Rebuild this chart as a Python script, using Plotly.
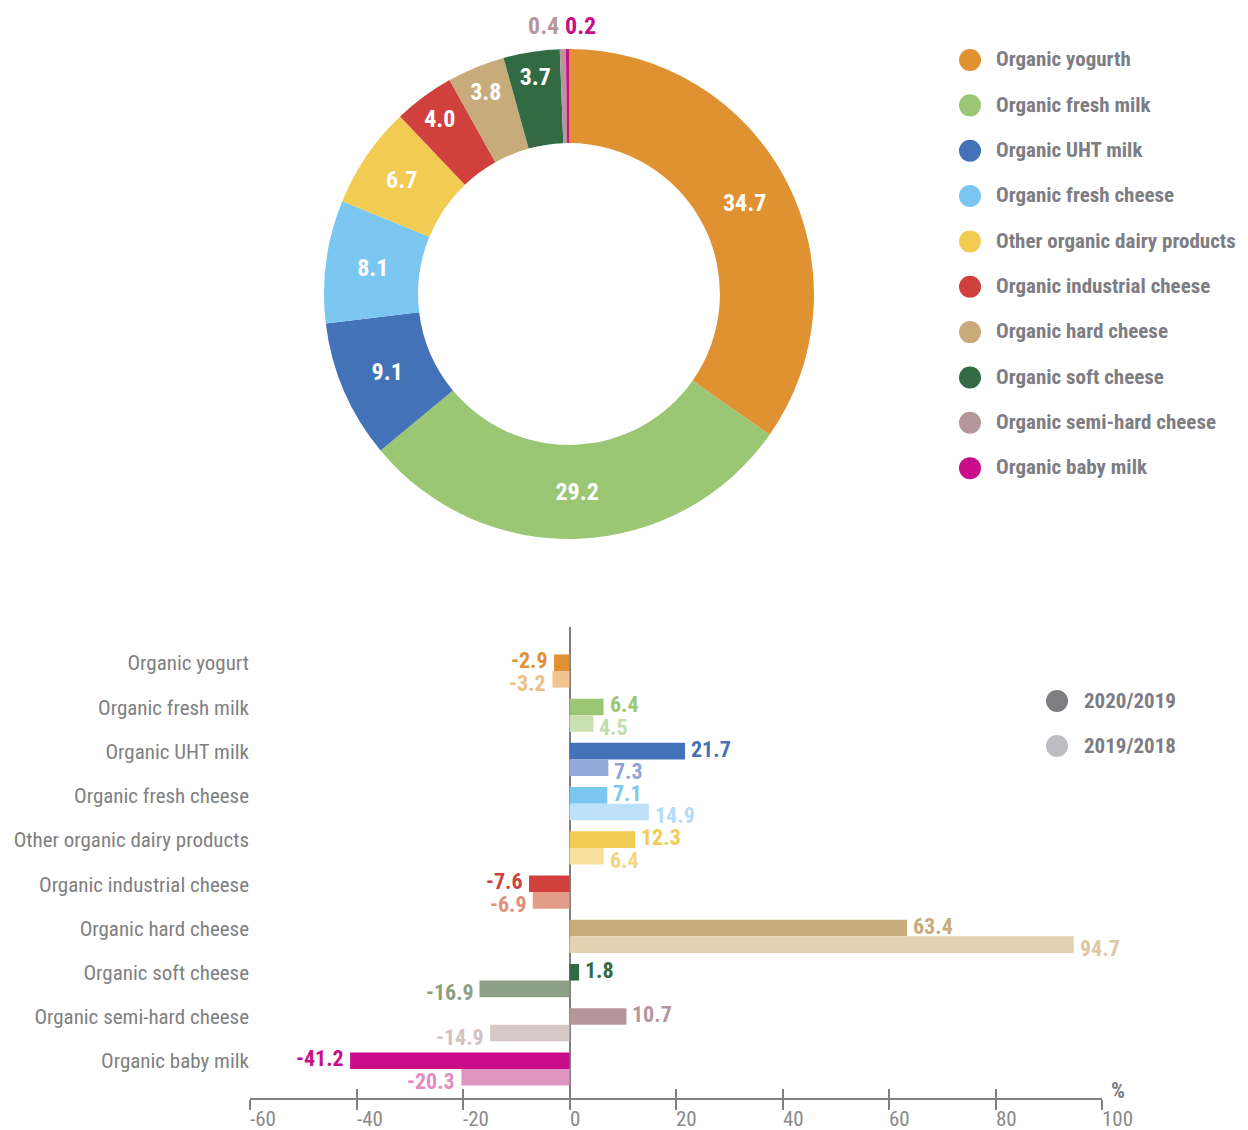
import plotly.graph_objects as go

W, H = 1248, 1130
FONT = "Liberation Sans Narrow, Arial Narrow, Roboto Condensed, DejaVu Sans Condensed, sans-serif"
AX = "#808080"
LABEL = "#7D7D83"

# ---------------- data ----------------
pie_labels = ["Organic yogurth", "Organic fresh milk", "Organic UHT milk", "Organic fresh cheese",
              "Other organic dairy products", "Organic industrial cheese", "Organic hard cheese",
              "Organic soft cheese", "Organic semi-hard cheese", "Organic baby milk"]
pie_values = [34.7, 29.2, 9.1, 8.1, 6.7, 4.0, 3.8, 3.7, 0.4, 0.2]
pie_colors = ["#E09132", "#9BC774", "#4472B8", "#7CC7F2", "#F2CB52",
              "#D0413E", "#C8AB7A", "#326B43", "#B5979B", "#C90D8A"]

bar_categories = ["Organic yogurt", "Organic fresh milk", "Organic UHT milk", "Organic fresh cheese",
                  "Other organic dairy products", "Organic industrial cheese", "Organic hard cheese",
                  "Organic soft cheese", "Organic semi-hard cheese", "Organic baby milk"]
growth_2020_2019 = [-2.9, 6.4, 21.7, 7.1, 12.3, -7.6, 63.4, 1.8, 10.7, -41.2]
growth_2019_2018 = [-3.2, 4.5, 7.3, 14.9, 6.4, -6.9, 94.7, -16.9, -14.9, -20.3]
series_names = ["2020/2019", "2019/2018"]
series_legend_colors = ["#7D7D82", "#BDBEC1"]
dark_colors = pie_colors
light_colors = ["#F0C48C", "#C9E1B1", "#95AADB", "#BDE1F8", "#F8DF9E",
                "#E39C88", "#E3D2B2", "#8CA185", "#D7C8C8", "#DF95C1"]
light_label_colors = ["#EEBF84", "#C3DDAA", "#8FA5D8", "#B3DCF6", "#F5D57E",
                      "#E0917D", "#DCC8A3", "#8BA184", "#D3C3C3", "#E08EC0"]
x_ticks = [-60, -40, -20, 0, 20, 40, 60, 80, 100]

BARGAP = 0.25

fig = go.Figure()

# ---------------- donut ----------------
fig.add_trace(go.Pie(
    labels=pie_labels, values=pie_values, sort=False, direction="clockwise", rotation=0,
    hole=0.616, marker=dict(colors=pie_colors, line=dict(width=0)),
    text=[f"{v:.1f}" if v >= 1 else "" for v in pie_values],
    textinfo="text", textposition="inside", insidetextorientation="horizontal",
    textfont=dict(family=FONT, size=24, color="white", weight="bold"),
    domain=dict(x=[324 / W, 814 / W], y=[1 - 539 / H, 1 - 49 / H]),
    showlegend=False, hoverinfo="label+value",
))

# ---------------- bars ----------------
ypos = list(range(len(bar_categories)))
for vals, cols, name in [(growth_2020_2019, dark_colors, series_names[0]),
                         (growth_2019_2018, light_colors, series_names[1])]:
    fig.add_trace(go.Bar(
        y=ypos, x=vals, orientation="h", name=name,
        marker=dict(color=cols, line=dict(width=0)),
        textposition="none", xaxis="x", yaxis="y", showlegend=False,
    ))
# empty trace to carry the overlay tick axis
fig.add_trace(go.Scatter(x=[None], y=[None], xaxis="x2", yaxis="y", showlegend=False, hoverinfo="skip"))

# ---------------- legends (drawn on a hidden pixel axis) ----------------
pie_leg_y = [60 + 45.35 * i for i in range(len(pie_labels))]
fig.add_trace(go.Scatter(x=[970] * len(pie_labels), y=pie_leg_y, mode="markers",
                         marker=dict(size=22, color=pie_colors), xaxis="x3", yaxis="y3",
                         showlegend=False, hoverinfo="skip", cliponaxis=False))
fig.add_trace(go.Scatter(x=[996] * len(pie_labels), y=[v + 1 for v in pie_leg_y], mode="text",
                         text=pie_labels, textposition="middle right",
                         textfont=dict(family=FONT, size=21, color=LABEL, weight="bold"),
                         xaxis="x3", yaxis="y3", showlegend=False, hoverinfo="skip", cliponaxis=False))
bar_leg_y = [701 + 45 * i for i in range(len(series_names))]
fig.add_trace(go.Scatter(x=[1057] * 2, y=bar_leg_y, mode="markers",
                         marker=dict(size=22, color=series_legend_colors), xaxis="x3", yaxis="y3",
                         showlegend=False, hoverinfo="skip", cliponaxis=False))
fig.add_trace(go.Scatter(x=[1084] * 2, y=[v + 2 for v in bar_leg_y], mode="text", text=series_names,
                         textposition="middle right",
                         textfont=dict(family=FONT, size=21, color=LABEL, weight="bold"),
                         xaxis="x3", yaxis="y3", showlegend=False, hoverinfo="skip", cliponaxis=False))

annotations = []
# bar value labels, placed at the end of each bar through the bar axes
half = (1 - BARGAP) / 4
for k, (vals, cols, dy) in enumerate([(growth_2020_2019, dark_colors, 2),
                                      (growth_2019_2018, light_label_colors, -4)]):
    offset = -half if k == 0 else half
    for i, (v, c) in enumerate(zip(vals, cols)):
        annotations.append(dict(
            xref="x", yref="y", x=v, y=i + offset, text=f"{v:.1f}", showarrow=False,
            xanchor="left" if v >= 0 else "right", yanchor="middle",
            xshift=5 if v >= 0 else -5, yshift=dy, borderpad=0,
            font=dict(family=FONT, size=22, color=c, weight="bold")))
# small pie slices labelled above the ring
for v, c, xp in zip(pie_values[-2:], pie_colors[-2:], [543, 580]):
    annotations.append(dict(xref="paper", yref="paper", x=xp / W, y=1 - 26 / H, text=f"{v:.1f}",
                            showarrow=False, xanchor="center", yanchor="middle",
                            font=dict(family=FONT, size=24, color=c, weight="bold")))
# x tick labels, left aligned at the tick
for t in x_ticks:
    annotations.append(dict(xref="x", yref="paper", x=t, y=0, text=str(t),
                            showarrow=False, xanchor="left", yanchor="bottom", xshift=-1, yshift=-2,
                            borderpad=0, font=dict(family=FONT, size=21, color="#8A8A8A")))
annotations.append(dict(xref="paper", yref="paper", x=1109 / W, y=1 - 1090 / H, text="%",
                        showarrow=False, xanchor="left", yanchor="middle",
                        font=dict(family=FONT, size=22, color=LABEL, weight="bold")))

fig.update_layout(
    width=W, height=H, margin=dict(l=0, r=0, t=0, b=0),
    paper_bgcolor="white", plot_bgcolor="rgba(0,0,0,0)",
    barmode="group", bargap=BARGAP, bargroupgap=0, showlegend=False,
    font=dict(family=FONT),
    xaxis=dict(domain=[250 / W, 1102 / W], range=[-60, 100], anchor="y",
               tickvals=x_ticks, showticklabels=False, ticks="outside", ticklen=10,
               tickwidth=1.5, tickcolor=AX, showline=True, linecolor=AX, linewidth=1.5,
               showgrid=False, zeroline=True, zerolinecolor=AX, zerolinewidth=1.5, fixedrange=True),
    xaxis2=dict(overlaying="x", anchor="y", range=[-60, 100], tickvals=x_ticks,
                ticks="inside", ticklen=9, tickwidth=1.5, tickcolor=AX, showticklabels=False,
                showline=False, showgrid=False, zeroline=False, fixedrange=True),
    yaxis=dict(domain=[1 - 1098 / H, 1 - 627 / H], range=[9.656, -0.995], anchor="x",
               tickvals=[i - 0.18 for i in ypos], ticktext=bar_categories, ticks="",
               showline=False, showgrid=False, zeroline=False, fixedrange=True,
               tickfont=dict(family=FONT, size=21, color="#808080"), ticklabelstandoff=0),
    xaxis3=dict(domain=[0, 1], range=[0, W], anchor="y3", visible=False, fixedrange=True),
    yaxis3=dict(domain=[0, 1], range=[H, 0], anchor="x3", visible=False, fixedrange=True),
    annotations=annotations,
)

fig.write_html("out.html", config={"displayModeBar": False},
               post_script="document.body.style.margin='0';")
